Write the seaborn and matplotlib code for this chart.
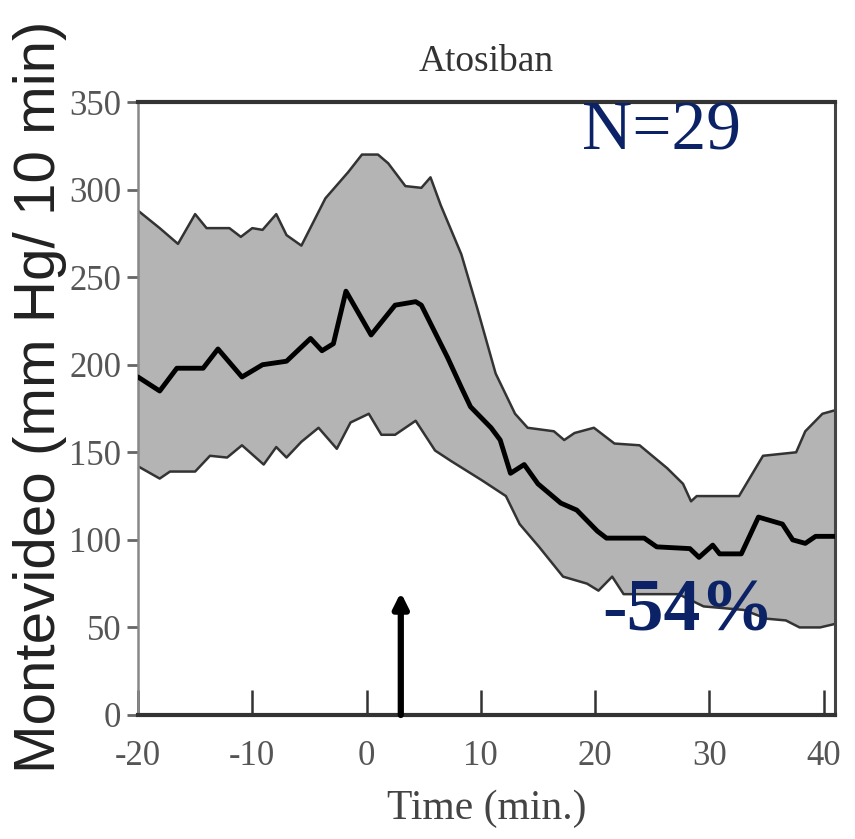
import numpy as np
import pandas as pd
import seaborn as sns
import matplotlib.pyplot as plt

# values
mean_t = [-20, -18.1, -16.6, -14.3, -13.0, -10.9, -9.1, -7.0, -4.9, -3.9, -2.9, -1.8, 0.4, 2.5, 4.3, 4.8,
          7.1, 8.3, 9.1, 10.9, 11.7, 12.6, 13.8, 15, 17, 18.4, 20.2, 21, 24.3, 25.4, 28.3, 29.1, 30.3,
          30.9, 32.8, 34.3, 36.4, 37.3, 38.4, 39.3, 41]
mean_v = [193, 185, 198, 198, 209, 193, 200, 202, 215, 208, 212, 242, 217, 234, 236, 234,
          204, 187, 176, 164, 157, 138, 143, 132, 121, 117, 105, 101, 101, 96, 95, 90, 97,
          92, 92, 113, 109, 100, 98, 102, 102]

upper_t = [-20, -18.1, -16.5, -15, -14, -12, -11, -10, -9.1, -7.9, -7.0, -5.7, -3.6, -1.6, -0.4,
           1.0, 1.9, 3.4, 4.8, 5.6, 6.5, 8.3, 9.7, 11.3, 13, 14.1, 16.4, 17.3, 18.2, 19.9,
           21.7, 23.9, 26.3, 27.7, 28.4, 28.9, 32.6, 34.7, 37.6, 38.4, 39.9, 41]
upper_v = [288, 278, 269, 286, 278, 278, 273, 278, 277, 286, 274, 268, 295, 310, 320,
           320, 315, 302, 301, 307, 291, 263, 232, 195, 172, 164, 162, 157, 161, 164,
           155, 154, 141, 132, 122, 125, 125, 148, 150, 162, 172, 174]

lower_t = [-20, -18.1, -17.2, -15, -13.7, -12.2, -10.9, -9.0, -7.9, -7.0, -5.7, -4.2, -2.6, -1.4,
           0.2, 1.3, 2.5, 4.3, 6.0, 7.4, 10.1, 12.2, 13.4, 15.1, 17.2, 19.3, 20.3, 21.5, 22.5,
           27.3, 29.5, 33, 35, 36.7, 37.9, 39.7, 41]
lower_v = [142, 135, 139, 139, 148, 147, 154, 143, 153, 147, 156, 164, 152, 167,
           172, 160, 160, 168, 151, 145, 134, 125, 109, 96, 79, 75, 71, 79, 69,
           69, 62, 60, 55, 54, 50, 50, 52]

x_ticks = [-20, -10, 0, 10, 20, 30, 40]
y_ticks = [0, 50, 100, 150, 200, 250, 300, 350]
arrow_time = 3
arrow_height = 70

sns.set_style("ticks")
serif = ['Liberation Serif', 'DejaVu Serif']
navy = '#0b2266'

df_mean = pd.DataFrame({'time': mean_t, 'value': mean_v})
df_up = pd.DataFrame({'time': upper_t, 'value': upper_v})
df_lo = pd.DataFrame({'time': lower_t, 'value': lower_v})

fig = plt.figure(figsize=(8.55, 8.39), dpi=100)
ax = fig.add_axes([0.1614, 0.1478, 0.8152, 0.7306])

# grey band between the upper and lower curves
ax.fill(np.concatenate([upper_t, lower_t[::-1]]), np.concatenate([upper_v, lower_v[::-1]]),
        color='#b4b4b4', lw=0, zorder=1)
sns.lineplot(data=df_up, x='time', y='value', ax=ax, color='#333333', lw=1.8, zorder=2)
sns.lineplot(data=df_lo, x='time', y='value', ax=ax, color='#333333', lw=1.8, zorder=2)
sns.lineplot(data=df_mean, x='time', y='value', ax=ax, color='black', lw=3.5, zorder=3)

ax.annotate('', xy=(arrow_time, arrow_height), xytext=(arrow_time, 0),
            arrowprops=dict(arrowstyle='-|>', color='black', lw=4.5, mutation_scale=22,
                            shrinkA=0, shrinkB=0), zorder=4)

ax.set_xlim(-20, 41)
ax.set_ylim(0, 350)
ax.set_xticks(x_ticks)
ax.set_yticks(y_ticks)
ax.set_xticklabels([str(t) for t in x_ticks], family=serif, fontsize=25, color='#555555')
ax.set_yticklabels([str(t) for t in y_ticks], family=serif, fontsize=25, color='#555555')
ax.tick_params(axis='x', direction='in', length=18, width=1.8, color='#333333', pad=18)
ax.tick_params(axis='y', direction='out', length=8, width=2, color='#666666', pad=4)

for side in ['top', 'bottom']:
    ax.spines[side].set_linewidth(3)
    ax.spines[side].set_color('#333333')
ax.spines['right'].set_linewidth(2.2)
ax.spines['right'].set_color('#444444')
ax.spines['left'].set_linewidth(1.8)
ax.spines['left'].set_color('#888888')

ax.set_xlabel('Time (min.)', family=serif, fontsize=30, color='#444444', labelpad=12)
ax.set_ylabel('Montevideo (mm Hg/ 10 min)', family=['Liberation Sans', 'DejaVu Sans'],
              fontsize=42, color='#222222')
ax.yaxis.set_label_coords(-0.102, 0.519)
ax.set_title('Atosiban', family=serif, fontsize=27, color='#333333', pad=22)

ax.text(18.9, 323, 'N=29', family=serif, fontsize=50, color=navy, va='baseline', zorder=5)
ax.text(20.6, 48, '-54%', family=serif, fontsize=53, fontweight='bold', color=navy,
        va='baseline', zorder=5)

fig.savefig('out.png', dpi=100)
